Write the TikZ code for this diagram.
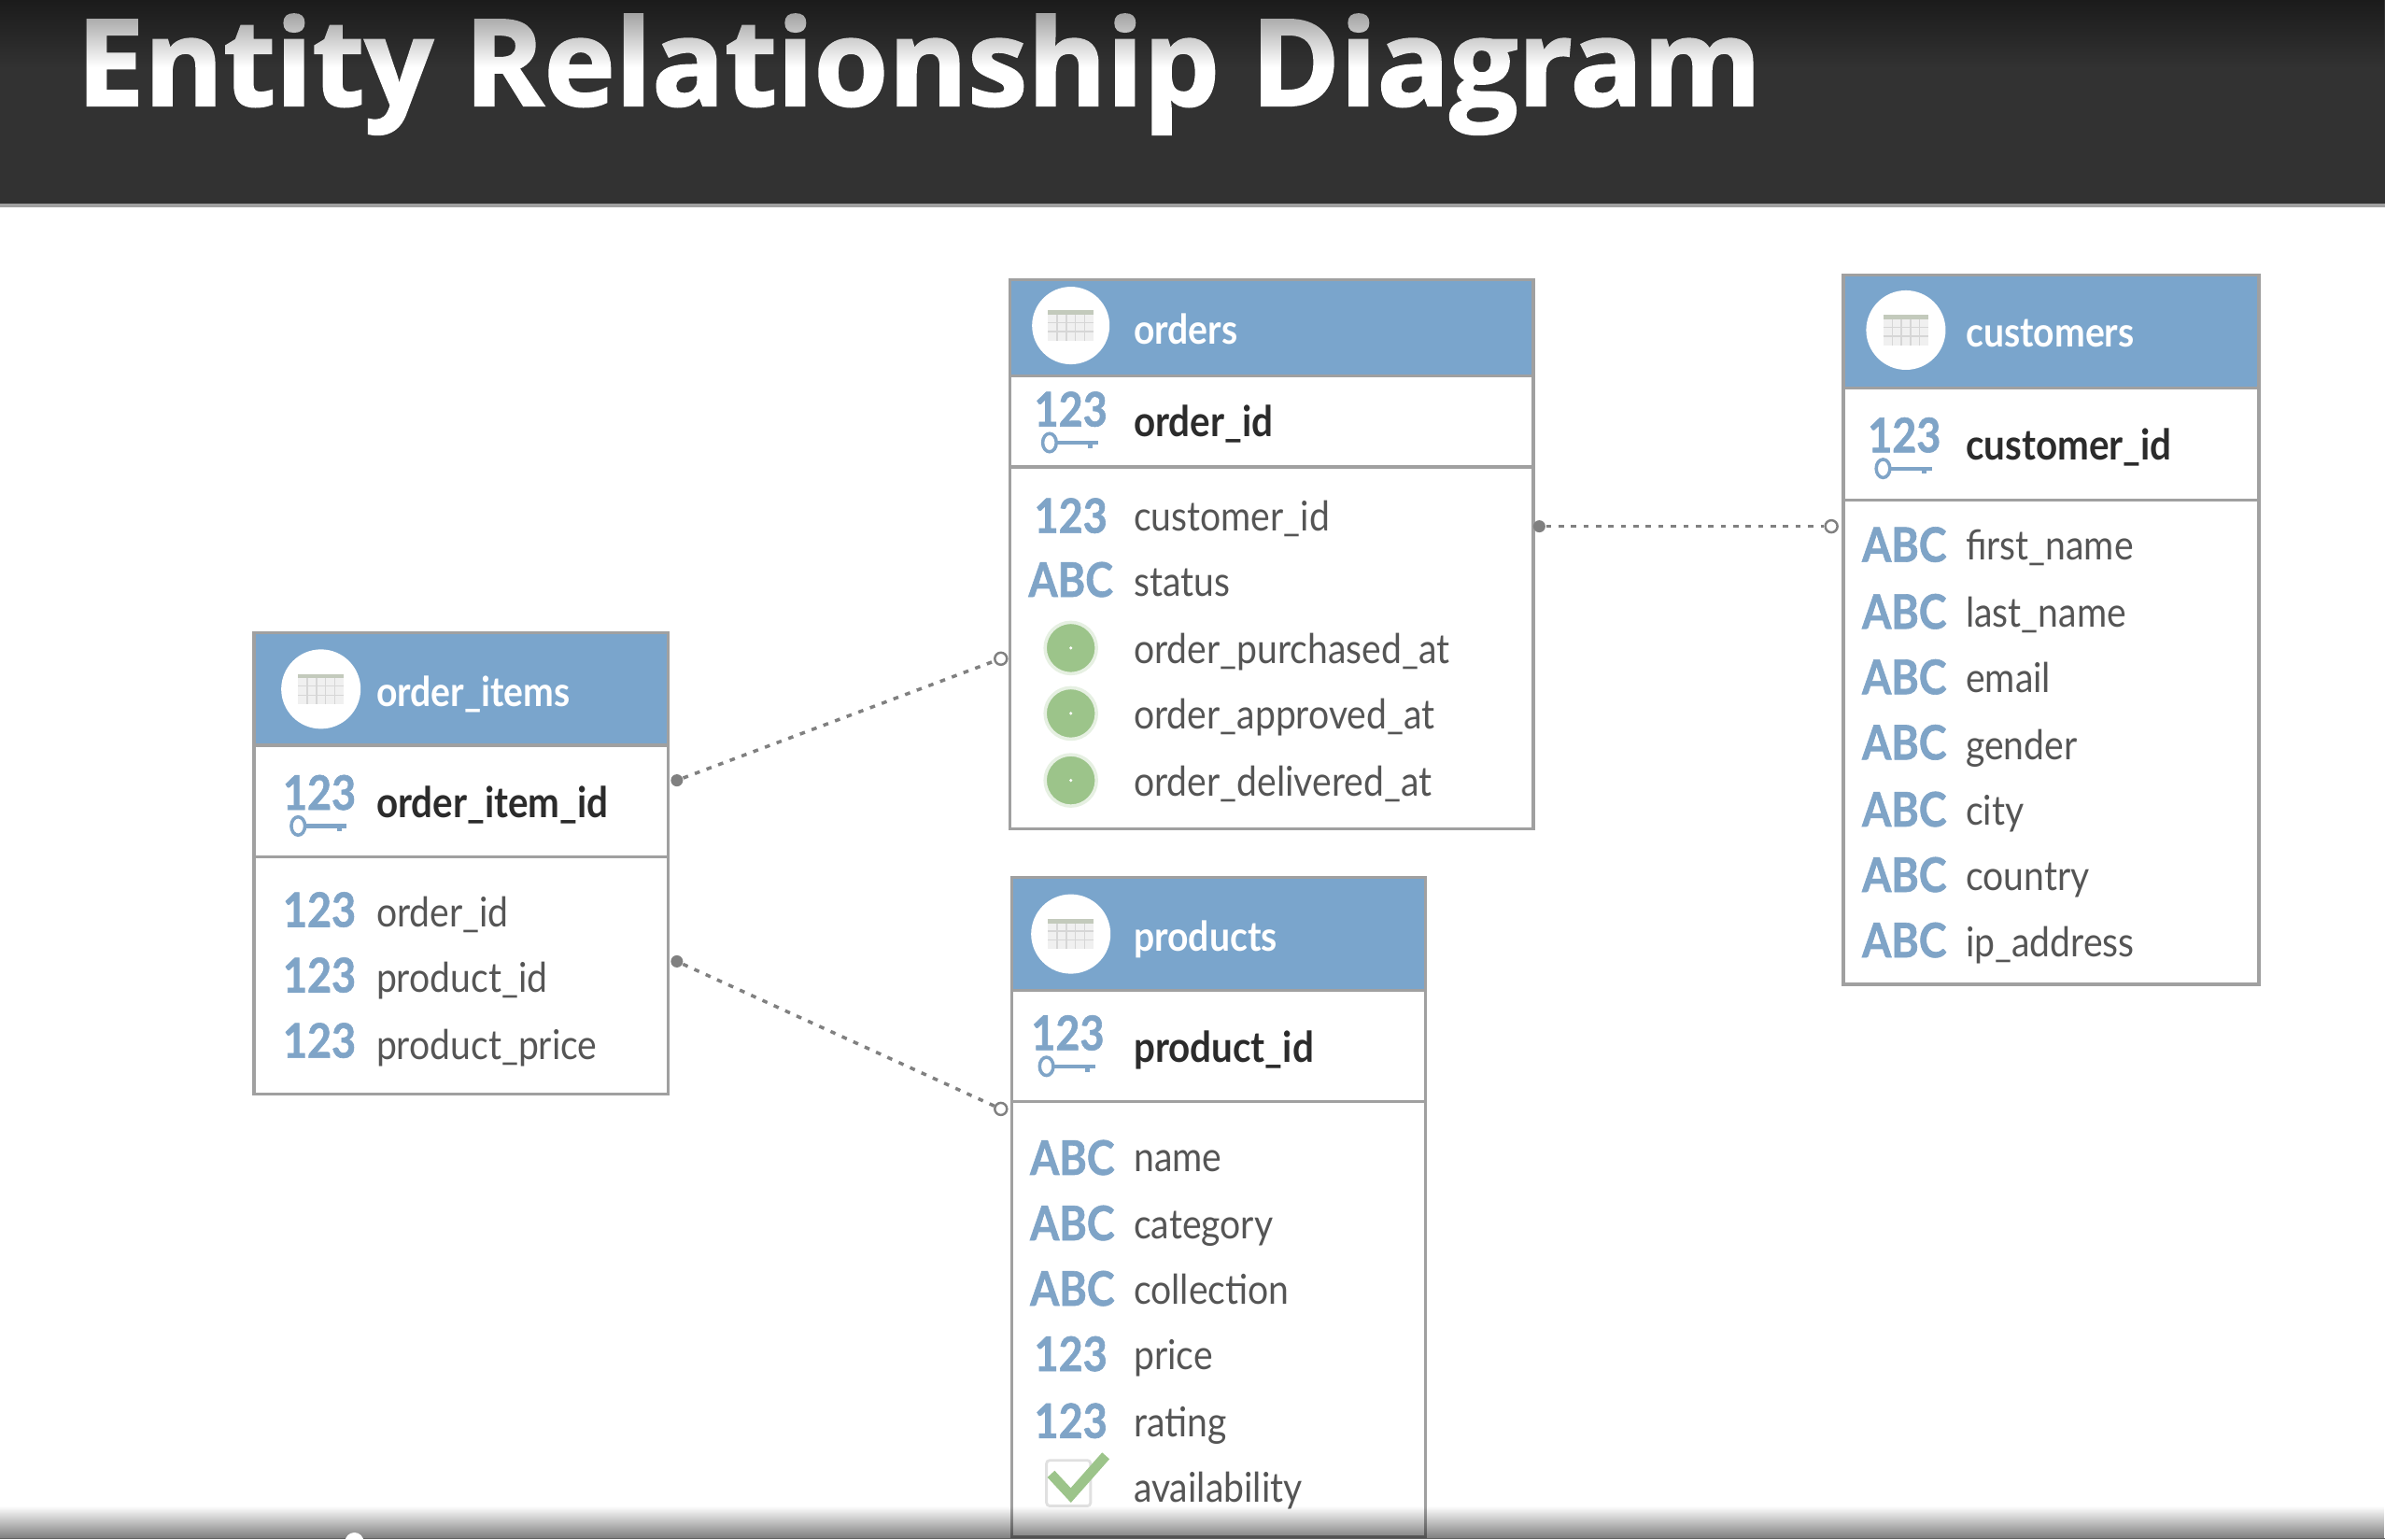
\documentclass[tikz,border=0pt]{standalone}
\usepackage{fontspec}
\setmainfont[FakeStretch=0.89]{Lato}
\newfontfamily\titlefont[BoldFeatures={FakeBold=1.6}]{Open Sans}
\newfontfamily\typefont[FakeStretch=0.88,BoldFeatures={FakeBold=1.2}]{Lato}
\usetikzlibrary{fadings}
\definecolor{band}{HTML}{323232}
\definecolor{headblue}{HTML}{7AA5CC}
\definecolor{typeblue}{HTML}{7FA4C7}
\definecolor{rim}{HTML}{A0A0A0}
\definecolor{rowtext}{HTML}{555555}
\definecolor{pktext}{HTML}{2B2B2B}
\definecolor{clockgreen}{HTML}{9CC48A}
\definecolor{dotgrey}{HTML}{808080}
\definecolor{gridtop}{HTML}{C3CABC}
\tikzfading[name=fadetop,top color=transparent!55,bottom color=transparent!100]
\tikzfading[name=fadebottom,top color=transparent!100,bottom color=transparent!50]
\tikzset{
  box/.style={draw=rim,line width=0.9pt,fill=white,inner sep=0pt},
  headbar/.style={draw=rim,line width=0.9pt,fill=headblue,inner sep=0pt},
  pkrow/.style={draw=rim,line width=0.9pt,inner sep=0pt},
  headtext/.style={anchor=west,inner sep=0pt,text=white,font=\fontsize{12.5}{14}\selectfont\bfseries,text height=12pt,text depth=2.5pt},
  pktext/.style={anchor=west,inner sep=0pt,text=pktext,font=\fontsize{12.9}{14}\selectfont\bfseries,text height=12pt,text depth=2.5pt},
  rowtext/.style={anchor=west,inner sep=0pt,text=rowtext,font=\fontsize{12.5}{14}\selectfont,text height=12pt,text depth=2.5pt},
  typetext/.style={inner sep=0pt,text=typeblue,font=\typefont\fontsize{14.5}{16}\selectfont\bfseries},
  headcircle/.style={circle,fill=white,inner sep=0pt,minimum size=1.66cm},
  clock/.style={circle,fill=clockgreen,draw=clockgreen!25,line width=1pt,inner sep=0pt,minimum size=0.55cm,
    path picture={\fill[white] (path picture bounding box.center) circle (0.5pt);}},
  enddot/.style={circle,fill=dotgrey,inner sep=0pt,minimum size=0.13cm},
  endring/.style={circle,draw=dotgrey,fill=white,line width=0.7pt,inner sep=0pt,minimum size=0.13cm},
  relation/.style={dotgrey,line width=1pt,dash pattern=on 1.6pt off 2.2pt},
  grid icon/.pic={
    \fill[black!6] (-15,-8) rectangle (15,10);
    \fill[gridtop] (-15,-10) rectangle (15,-7);
    \foreach \gx in {-9,-3,3,9} \draw[black!16,line width=0.4pt] (\gx,-7) -- (\gx,10);
    \foreach \gy in {-2,4} \draw[black!16,line width=0.4pt] (-15,\gy) -- (15,\gy);
  },
  key icon/.pic={
    \draw[typeblue,line width=1pt] (-14,0) ellipse (4.5 and 6);
    \draw[typeblue,line width=1.2pt] (-10,0) -- (18,0);
    \draw[typeblue,line width=1.4pt] (13,0) -- (13,3.5);
  },
  tick icon/.pic={
    \draw[black!12,rounded corners=1pt,line width=0.8pt] (-16,-15) rectangle (13,15);
    \draw[clockgreen,line width=3pt] (-13,-6) -- (0,8) -- (23,-18);
  },
}
\begin{document}
\begin{tikzpicture}[x=0.016288cm,y=-0.016288cm]
\useasboundingbox (0,0) rectangle (1568,1012);
\fill[white] (0,0) rectangle (1568,1012);
% title band
\fill[band] (0,0) rectangle (1568,134);
\fill[rim] (0,134) rectangle (1568,136);
\node[anchor=base west,inner sep=0pt,text=white,font=\titlefont\fontsize{36.7}{40}\selectfont\bfseries,name=title] at (50,69.5) {Entity Relationship Diagram};
\fill[black,path fading=fadetop] (0,0) rectangle (1568,44);
% orders
\node[box,minimum width=5.603cm,minimum height=5.88cm,name=ord] at (836,364.5) {};
\node[headbar,minimum width=5.603cm,minimum height=1.026cm,name=ordhead] at (836,215.5) {};
\node[pkrow,minimum width=5.603cm,minimum height=0.977cm,name=ordpk] at (836,277) {};
\node[headcircle,minimum size=0.83cm,name=ordcirc] at (704,214) {};
\pic at (ordcirc) {grid icon};
\node[headtext,name=ordname] at (745,216) {orders};
\node[typetext,name=ordt0] at (704,269) {123};
\pic at (704,291) {key icon};
\node[pktext,name=ordn0] at (745,277) {order\_id};
\node[typetext,name=ordt1] at (704,339) {123};
\node[rowtext,name=ordn1] at (745,339) {customer\_id};
\node[typetext,name=ordt2] at (704,381) {ABC};
\node[rowtext,name=ordn2] at (745,382) {status};
\node[clock,name=ordt3] at (704,426) {};
\node[rowtext,name=ordn3] at (745,426) {order\_purchased\_at};
\node[clock,name=ordt4] at (704,469) {};
\node[rowtext,name=ordn4] at (745,469) {order\_approved\_at};
\node[clock,name=ordt5] at (704,513) {};
\node[rowtext,name=ordn5] at (745,513) {order\_delivered\_at};
% customers
\node[box,minimum width=4.447cm,minimum height=7.59cm,name=cus] at (1348.5,414) {};
\node[headbar,minimum width=4.447cm,minimum height=1.205cm,name=cushead] at (1348.5,218) {};
\node[pkrow,minimum width=4.447cm,minimum height=1.205cm,name=cuspk] at (1348.5,292) {};
\node[headcircle,minimum size=0.85cm,name=cuscirc] at (1253,217) {};
\pic at (cuscirc) {grid icon};
\node[headtext,name=cusname] at (1292,218) {customers};
\node[typetext,name=cust0] at (1252,286) {123};
\pic at (1252,308) {key icon};
\node[pktext,name=cusn0] at (1292,292) {customer\_id};
\node[typetext,name=cust1] at (1252,358) {ABC};
\node[rowtext,name=cusn1] at (1292,358) {first\_name};
\node[typetext,name=cust2] at (1252,402) {ABC};
\node[rowtext,name=cusn2] at (1292,402) {last\_name};
\node[typetext,name=cust3] at (1252,445) {ABC};
\node[rowtext,name=cusn3] at (1292,445) {email};
\node[typetext,name=cust4] at (1252,488) {ABC};
\node[rowtext,name=cusn4] at (1292,489) {gender};
\node[typetext,name=cust5] at (1252,532) {ABC};
\node[rowtext,name=cusn5] at (1292,532) {city};
\node[typetext,name=cust6] at (1252,575) {ABC};
\node[rowtext,name=cusn6] at (1292,575) {country};
\node[typetext,name=cust7] at (1252,618) {ABC};
\node[rowtext,name=cusn7] at (1292,619) {ip\_address};
% order_items
\node[box,minimum width=4.43cm,minimum height=4.935cm,name=itm] at (303,567.5) {};
\node[headbar,minimum width=4.43cm,minimum height=1.205cm,name=itmhead] at (303,453) {};
\node[pkrow,minimum width=4.43cm,minimum height=1.19cm,name=itmpk] at (303,526.5) {};
\node[headcircle,minimum size=0.85cm,name=itmcirc] at (211,453) {};
\pic at (itmcirc) {grid icon};
\node[headtext,name=itmname] at (247,454) {order\_items};
\node[typetext,name=itmt0] at (210,521) {123};
\pic at (210,543) {key icon};
\node[pktext,name=itmn0] at (247,527) {order\_item\_id};
\node[typetext,name=itmt1] at (210,598) {123};
\node[rowtext,name=itmn1] at (247,599) {order\_id};
\node[typetext,name=itmt2] at (210,641) {123};
\node[rowtext,name=itmn2] at (247,642) {product\_id};
\node[typetext,name=itmt3] at (210,684) {123};
\node[rowtext,name=itmn3] at (247,686) {product\_price};
% products
\node[box,minimum width=4.43cm,minimum height=7.05cm,name=prd] at (801,793.5) {};
\node[headbar,minimum width=4.43cm,minimum height=1.205cm,name=prdhead] at (801,614) {};
\node[pkrow,minimum width=4.43cm,minimum height=1.19cm,name=prdpk] at (801,687.5) {};
\node[headcircle,minimum size=0.85cm,name=prdcirc] at (704,614) {};
\pic at (prdcirc) {grid icon};
\node[headtext,name=prdname] at (745,615) {products};
\node[typetext,name=prdt0] at (702,679) {123};
\pic at (702,701) {key icon};
\node[pktext,name=prdn0] at (745,688) {product\_id};
\node[typetext,name=prdt1] at (705,761) {ABC};
\node[rowtext,name=prdn1] at (745,760) {name};
\node[typetext,name=prdt2] at (705,804) {ABC};
\node[rowtext,name=prdn2] at (745,804) {category};
\node[typetext,name=prdt3] at (705,847) {ABC};
\node[rowtext,name=prdn3] at (745,847) {collection};
\node[typetext,name=prdt4] at (704,890) {123};
\node[rowtext,name=prdn4] at (745,890) {price};
\node[typetext,name=prdt5] at (704,934) {123};
\node[rowtext,name=prdn5] at (745,934) {rating};
\pic at (704,975) {tick icon};
\node[rowtext,name=prdn6] at (745,977) {availability};
% relations
\node[enddot,name=ordend] at (1012,346) {};
\node[endring,name=cusend] at (1204,346) {};
\node[enddot,name=itmend] at (445,513) {};
\node[endring,name=ordend2] at (658,433) {};
\node[enddot,name=itmend2] at (445,632) {};
\node[endring,name=prdend] at (658,729) {};
\draw[relation] (ordend) -- (cusend);
\draw[relation] (itmend) -- (ordend2);
\draw[relation] (itmend2) -- (prdend);
% bottom edge
\fill[black,path fading=fadebottom] (0,990) rectangle (1568,1011);
\fill[black!60] (0,1011) rectangle (1568,1012);
\begin{scope}
\clip (0,0) rectangle (1568,1012);
\node[circle,fill=white,inner sep=0pt,minimum size=0.2cm,name=scrub] at (233,1013.6) {};
\end{scope}
\end{tikzpicture}
\end{document}
